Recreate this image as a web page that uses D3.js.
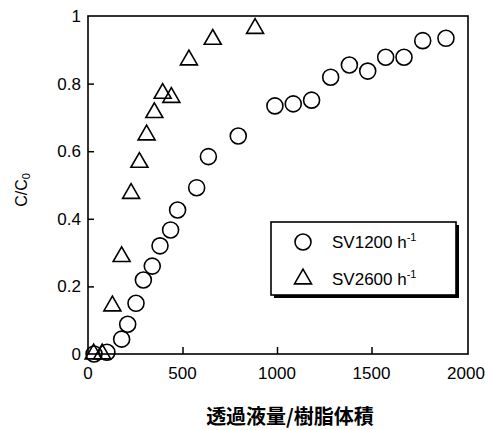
<!DOCTYPE html>
<html>
<head>
<meta charset="utf-8">
<script src="https://cdn.jsdelivr.net/npm/d3@7"></script>
<style>
  body { margin: 0; background: #fff; }
  text, tspan { font-family: "Liberation Sans", Arial, sans-serif; fill: #000; }
</style>
</head>
<body>
<svg width="485" height="430"></svg>
<script>
// SV1200 h-1 (circles)
const sv1200X = [32, 100, 178, 210, 254, 293, 340, 381, 437, 474, 575, 637, 795,
  989, 1086, 1183, 1284, 1383, 1480, 1575, 1672, 1771, 1894];
const sv1200Y = [0, 0.005, 0.044, 0.088, 0.15, 0.219, 0.26, 0.32, 0.367, 0.426, 0.492, 0.584, 0.645,
  0.734, 0.74, 0.751, 0.819, 0.855, 0.837, 0.878, 0.878, 0.927, 0.934];
// SV2600 h-1 (triangles)
const sv2600X = [30, 75, 129, 178, 228, 272, 310, 351, 395, 441, 534, 660, 884];
const sv2600Y = [0, 0, 0.142, 0.288, 0.475, 0.567, 0.648, 0.714, 0.771, 0.759, 0.870, 0.931, 0.963];

const xTicks = [0, 500, 1000, 1500, 2000];
const yTicks = [0, 0.2, 0.4, 0.6, 0.8, 1];

const svg = d3.select('svg');
const m = { left: 88, right: 468, top: 16, bottom: 354 };

const xScale = d3.scaleLinear().domain([0, 2000]).range([m.left, m.right - 2]);
const yScale = d3.scaleLinear().domain([0, 1]).range([m.bottom, m.top]);

const g = svg.append('g');

// inward ticks
const xAxis = d3.axisTop(xScale).tickValues(xTicks.slice(1, -1)).tickSize(7).tickFormat('');
g.append('g').attr('transform', `translate(0,${m.bottom})`).call(xAxis)
  .call(a => a.select('.domain').remove())
  .selectAll('line').attr('stroke-width', 1.5);

const yAxis = d3.axisRight(yScale).tickValues(yTicks.slice(1, -1)).tickSize(6).tickFormat('');
g.append('g').attr('transform', `translate(${m.left},0)`).call(yAxis)
  .call(a => a.select('.domain').remove())
  .selectAll('line').attr('stroke-width', 1.5);

// frame
g.append('rect')
  .attr('x', m.left).attr('y', m.top)
  .attr('width', m.right - m.left).attr('height', m.bottom - m.top)
  .attr('fill', 'none').attr('stroke', '#000').attr('stroke-width', 1.6);

// tick labels
g.selectAll('.xlab').data(xTicks).enter().append('text')
  .attr('x', d => xScale(d)).attr('y', 379)
  .attr('text-anchor', 'middle').attr('font-size', 17)
  .text(d => d);

g.selectAll('.ylab').data(yTicks).enter().append('text')
  .attr('x', 81).attr('y', d => yScale(d) + 6)
  .attr('text-anchor', 'end').attr('font-size', 17)
  .text(d => d);

// axis titles
const yl = svg.append('text')
  .attr('transform', `translate(27,190) rotate(-90)`)
  .attr('text-anchor', 'middle').attr('font-size', 16).attr('fill', '#000');
yl.append('tspan').attr('fill', '#000').text('C/C');
yl.append('tspan').attr('fill', '#000').attr('font-size', 11).attr('dy', 3).text('0');

svg.append('text')
  .attr('x', 290).attr('y', 424)
  .attr('text-anchor', 'middle')
  .style('font-family', '"Noto Sans CJK JP", sans-serif')
  .attr('font-weight', 'bold').attr('font-size', 20)
  .text('透過液量/樹脂体積');

// markers
const circles = sv1200X.map((x, i) => ({ x, y: sv1200Y[i] }));
const tris = sv2600X.map((x, i) => ({ x, y: sv2600Y[i] }));

g.selectAll('.c').data(circles).enter().append('circle')
  .attr('cx', d => xScale(d.x)).attr('cy', d => yScale(d.y))
  .attr('r', 8).attr('fill', 'none').attr('stroke', '#000').attr('stroke-width', 1.6);

const triPath = d3.symbol().type(d3.symbolTriangle).size(125);
g.selectAll('.t').data(tris).enter().append('path')
  .attr('d', triPath)
  .attr('transform', d => `translate(${xScale(d.x)},${yScale(d.y)})`)
  .attr('fill', 'none').attr('stroke', '#000').attr('stroke-width', 1.6);

// legend
const lg = svg.append('g');
lg.append('rect').attr('x', 274).attr('y', 225).attr('width', 185).attr('height', 73).attr('fill', '#000');
lg.append('rect').attr('x', 271).attr('y', 222).attr('width', 185).attr('height', 73)
  .attr('fill', '#fff').attr('stroke', '#000').attr('stroke-width', 1.6);
lg.append('circle').attr('cx', 303).attr('cy', 242).attr('r', 8)
  .attr('fill', 'none').attr('stroke', '#000').attr('stroke-width', 1.6);
lg.append('path').attr('d', triPath).attr('transform', 'translate(303,279)')
  .attr('fill', 'none').attr('stroke', '#000').attr('stroke-width', 1.6);

const legendLabels = ['SV1200 h', 'SV2600 h'];
legendLabels.forEach((l, i) => {
  const t = lg.append('text').attr('x', 332).attr('y', 248 + i * 37).attr('font-size', 17);
  t.append('tspan').text(l);
  t.append('tspan').attr('font-size', 11).attr('dy', -7).text('-1');
});
</script>
</body>
</html>
